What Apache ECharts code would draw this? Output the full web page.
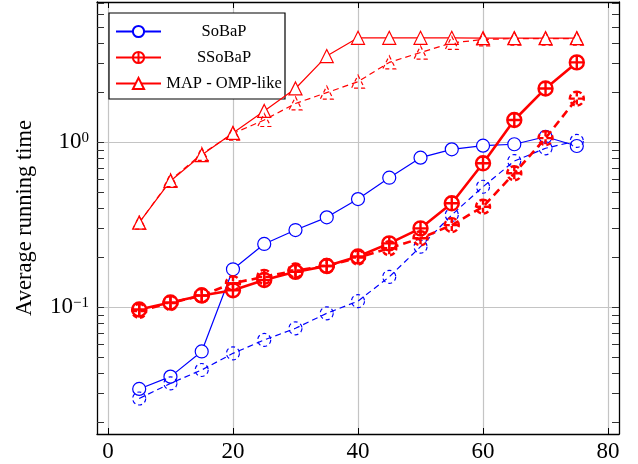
<!DOCTYPE html>
<html><head><meta charset="utf-8">
<script src="https://cdn.jsdelivr.net/npm/echarts@6/dist/echarts.min.js"></script>
<style>html,body{margin:0;padding:0;background:#fff}#c{width:638px;height:464px}</style>
</head><body><div id="c"></div>
<script>
// ---- data ----
const xValues = [5, 10, 15, 20, 25, 30, 35, 40, 45, 50, 55, 60, 65, 70, 75];
const sobapSolid = [0.032, 0.038, 0.054, 0.17, 0.242, 0.294, 0.351, 0.453, 0.61, 0.807, 0.907, 0.954, 0.973, 1.08, 0.95];
const sobapDashed = [0.028, 0.0346, 0.0417, 0.0526, 0.0634, 0.0746, 0.092, 0.109, 0.153, 0.233, 0.363, 0.538, 0.77, 0.92, 1.02];
const ssobapSolid = [0.097, 0.107, 0.118, 0.127, 0.1465, 0.164, 0.178, 0.203, 0.244, 0.301, 0.427, 0.746, 1.365, 2.12, 3.05];
const ssobapDashed = [0.095, 0.106, 0.118, 0.14, 0.153, 0.167, 0.178, 0.2, 0.228, 0.262, 0.315, 0.407, 0.649, 1.06, 1.84];
const mapSolid = [0.326, 0.583, 0.837, 1.14, 1.55, 2.12, 3.33, 4.3, 4.3, 4.3, 4.3, 4.28, 4.28, 4.28, 4.28];
const mapDashed = [0.326, 0.59, 0.85, 1.13, 1.365, 1.72, 2.0, 2.33, 3.05, 3.5, 4.0, 4.2, 4.25, 4.25, 4.25];
const xTicks = [0, 20, 40, 60, 80];
const yMajorTicks = [0.1, 1];
const yMinorTicks = [0.02,0.03,0.04,0.05,0.06,0.07,0.08,0.09,0.2,0.3,0.4,0.5,0.6,0.7,0.8,0.9,2,3,4,5,6,7];
const legendNames = ['SoBaP', 'SSoBaP', 'MAP - OMP-like'];
const yLabel = 'Average running time';

// ---- chart ----
const pairs = arr => arr.map((v, i) => [xValues[i], v]);
const FONT = 'Liberation Serif';
const BLUE = '#0000ff', RED = '#ff0000';
const XMIN = -1.75, XMAX = 81.75, YMIN = 0.017066, YMAX = 7.085;
const circlePlus = 'path://M0,-10A10,10 0 1,1 0,10A10,10 0 1,1 0,-10ZM-10,0L10,0M0,-10L0,10';
const allYTicks = yMajorTicks.concat(yMinorTicks);

function logLabel(v) {
  const e = Math.round(Math.log10(v));
  return '{b|10}{s|' + (e < 0 ? '\u2212' + (-e) : e) + '}';
}

const chart = echarts.init(document.getElementById('c'), null, {renderer: 'canvas'});
const axisLineStyle = {color: '#000', width: 1.3};
chart.setOption({
  animation: false,
  backgroundColor: '#fff',
  grid: {left: 97, right: 19, top: 2, bottom: 30, containLabel: false},
  legend: {
    data: legendNames,
    orient: 'vertical',
    left: 109, top: 13,
    padding: [10, 3, 7, 6],
    itemGap: 9,
    itemWidth: 45, itemHeight: 14,
    borderColor: '#000', borderWidth: 1.2, backgroundColor: '#fff',
    formatter: n => '{t|' + n + '}',
    textStyle: {rich: {t: {width: 116, align: 'center', fontSize: 16.5, fontFamily: FONT, color: '#000', lineHeight: 14}}}
  },
  xAxis: [{
    type: 'value', min: XMIN, max: XMAX, position: 'bottom',
    axisLine: {show: true, lineStyle: axisLineStyle},
    axisTick: {show: true, inside: true, length: 6, customValues: xTicks, lineStyle: {color: '#000'}},
    axisLabel: {customValues: xTicks, fontSize: 23, fontFamily: FONT, color: '#000', margin: 6},
    splitLine: {show: true, lineStyle: {color: '#c4c4c4', width: 1.2}}
  }, {
    type: 'value', min: XMIN, max: XMAX, position: 'top',
    axisLine: {show: true, onZero: false, lineStyle: axisLineStyle},
    axisTick: {show: true, inside: true, length: 6, customValues: xTicks, lineStyle: {color: '#000'}},
    axisLabel: {show: false},
    splitLine: {show: false}
  }],
  yAxis: [{
    type: 'log', min: YMIN, max: YMAX, position: 'left',
    name: yLabel, nameLocation: 'middle', nameRotate: 90, nameGap: 60,
    nameTextStyle: {fontSize: 22.5, fontFamily: FONT, color: '#000'},
    axisLine: {show: true, onZero: false, lineStyle: axisLineStyle},
    axisTick: {show: true, inside: true, length: 7, customValues: allYTicks, lineStyle: {color: '#333', width: 1}},
    axisLabel: {customValues: yMajorTicks, formatter: logLabel, margin: 8,
      rich: {b: {fontSize: 23, fontFamily: FONT, color: '#000'},
             s: {fontSize: 15, fontFamily: FONT, color: '#000', verticalAlign: 'top'}}},
    splitLine: {show: false}
  }, {
    type: 'log', min: YMIN, max: YMAX, position: 'right',
    axisLine: {show: true, onZero: false, lineStyle: axisLineStyle},
    axisTick: {show: true, inside: true, length: 7, customValues: allYTicks, lineStyle: {color: '#333', width: 1}},
    axisLabel: {show: false},
    splitLine: {show: false}
  }, {
    type: 'log', min: YMIN, max: YMAX, position: 'left',
    axisLine: {show: false},
    axisTick: {show: false, customValues: yMajorTicks},
    axisLabel: {show: false, customValues: yMajorTicks},
    splitLine: {show: true, lineStyle: {color: '#c4c4c4', width: 1.2}}
  }],
  series: [
    {name: 'SoBaP', type: 'line', data: pairs(sobapSolid), symbol: 'circle', symbolSize: 13, z: 3,
     lineStyle: {color: BLUE, width: 1.2}, itemStyle: {color: '#fff', borderColor: BLUE, borderWidth: 1.2}},
    {name: 'SoBaP (dashed)', type: 'line', data: pairs(sobapDashed), symbol: 'circle', symbolSize: 13, z: 3,
     lineStyle: {color: BLUE, width: 1.2, type: [6, 4]}, itemStyle: {color: 'rgba(255,255,255,0)', borderColor: BLUE, borderWidth: 1.2, borderType: [4, 3]}},
    {name: 'SSoBaP', type: 'line', data: pairs(ssobapSolid), symbol: circlePlus, symbolSize: 14, z: 4,
     lineStyle: {color: RED, width: 2.6}, itemStyle: {color: '#fff', borderColor: RED, borderWidth: 2.4}},
    {name: 'SSoBaP (dashed)', type: 'line', data: pairs(ssobapDashed), symbol: circlePlus, symbolSize: 14, z: 4,
     lineStyle: {color: RED, width: 2.6, type: [8, 5]}, itemStyle: {color: 'rgba(255,255,255,0)', borderColor: RED, borderWidth: 2.4, borderType: [5, 3]}},
    {name: 'MAP - OMP-like', type: 'line', data: pairs(mapSolid), symbol: 'triangle', symbolSize: 13, z: 5,
     lineStyle: {color: RED, width: 1.2}, itemStyle: {color: '#fff', borderColor: RED, borderWidth: 1.2}},
    {name: 'MAP (dashed)', type: 'line', data: pairs(mapDashed), symbol: 'triangle', symbolSize: 13, z: 5,
     lineStyle: {color: RED, width: 1.2, type: [6, 4]}, itemStyle: {color: 'rgba(255,255,255,0)', borderColor: RED, borderWidth: 1.2, borderType: [4, 3]}}
  ]
});
</script>
</body></html>
